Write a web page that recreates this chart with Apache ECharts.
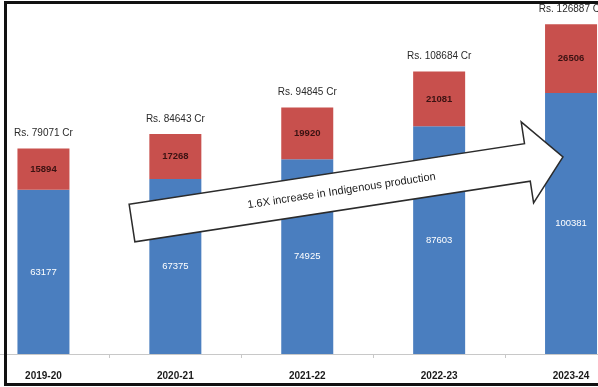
<!DOCTYPE html>
<html>
<head>
<meta charset="utf-8">
<script src="https://cdn.jsdelivr.net/npm/echarts@6/dist/echarts.min.js"></script>
<style>
  html, body { margin: 0; padding: 0; background: #ffffff; }
  #chart { width: 598px; height: 387px; }
</style>
</head>
<body>
<div id="chart"></div>
<script>
// Defence production by financial year (Rs. crore)
const years = ['2019-20', '2020-21', '2021-22', '2022-23', '2023-24'];
const indigenous = [63177, 67375, 74925, 87603, 100381];
const imported = [15894, 17268, 19920, 21081, 26506];
const totals = [79071, 84643, 94845, 108684, 126887];
const arrowText = '1.6X increase in Indigenous production';

const chart = echarts.init(document.getElementById('chart'), null, { renderer: 'canvas' });

const labelFont = '"Liberation Sans", Arial, sans-serif';

chart.setOption({
  animation: false,
  backgroundColor: '#ffffff',
  grid: {
    left: -22.5, width: 659.5, top: 20, bottom: 33,
    containLabel: false,
    outerBoundsMode: 'none'
  },
  xAxis: {
    type: 'category',
    data: years,
    axisLine: { lineStyle: { color: '#c8c8c8', width: 1 } },
    axisTick: { show: true, length: 4, lineStyle: { color: '#c8c8c8' } },
    axisLabel: {
      margin: 17,
      color: '#1a1a1a',
      fontWeight: 'bold',
      fontSize: 10,
      fontFamily: labelFont
    }
  },
  yAxis: {
    type: 'value',
    min: 0,
    max: 128500,
    show: false,
    splitLine: { show: false }
  },
  series: [
    {
      name: 'Indigenous',
      type: 'bar',
      stack: 'prod',
      barWidth: 52,
      data: indigenous,
      itemStyle: { color: '#4a7ebf' },
      label: {
        show: true,
        position: 'inside',
        color: '#ffffff',
        fontSize: 9.5,
        fontFamily: labelFont
      }
    },
    {
      name: 'Other',
      type: 'bar',
      stack: 'prod',
      barWidth: 52,
      data: imported,
      itemStyle: { color: '#c8504d' },
      label: {
        show: true,
        position: 'inside',
        color: '#3a1212',
        fontSize: 9.5,
        fontWeight: 'bold',
        fontFamily: labelFont
      }
    },
    {
      name: 'Total',
      type: 'bar',
      barWidth: 52,
      barGap: '-100%',
      data: totals,
      itemStyle: { color: 'rgba(0,0,0,0)' },
      silent: true,
      label: {
        show: true,
        position: 'top',
        distance: 10,
        color: '#2a2a2a',
        fontSize: 10,
        fontFamily: labelFont,
        formatter: p => 'Rs. ' + p.value + ' Cr'
      }
    }
  ],
  graphic: {
    elements: [
      {
        type: 'group',
        x: 132,
        y: 223,
        rotation: 0.152,
        z: 100,
        zlevel: 1,
        children: [
          {
            type: 'polygon',
            z: 100,
            zlevel: 1,
            shape: {
              points: [[0, -19], [400, -19], [400, -41], [436, 0], [400, 41], [400, 19], [0, 19]]
            },
            style: { fill: '#ffffff', stroke: '#2b2b2b', lineWidth: 1.5 }
          },
          {
            type: 'text',
            z: 101,
            zlevel: 1,
            x: 212,
            y: 0,
            style: {
              text: arrowText,
              fill: '#1a1a1a',
              fontSize: 11,
              fontFamily: labelFont,
              align: 'center',
              verticalAlign: 'middle'
            }
          }
        ]
      },
      {
        type: 'rect',
        z: 120,
        zlevel: 1,
        shape: { x: 5.5, y: 2.5, width: 700, height: 382 },
        style: { fill: 'none', stroke: '#111111', lineWidth: 3 }
      }
    ]
  }
});
</script>
</body>
</html>
